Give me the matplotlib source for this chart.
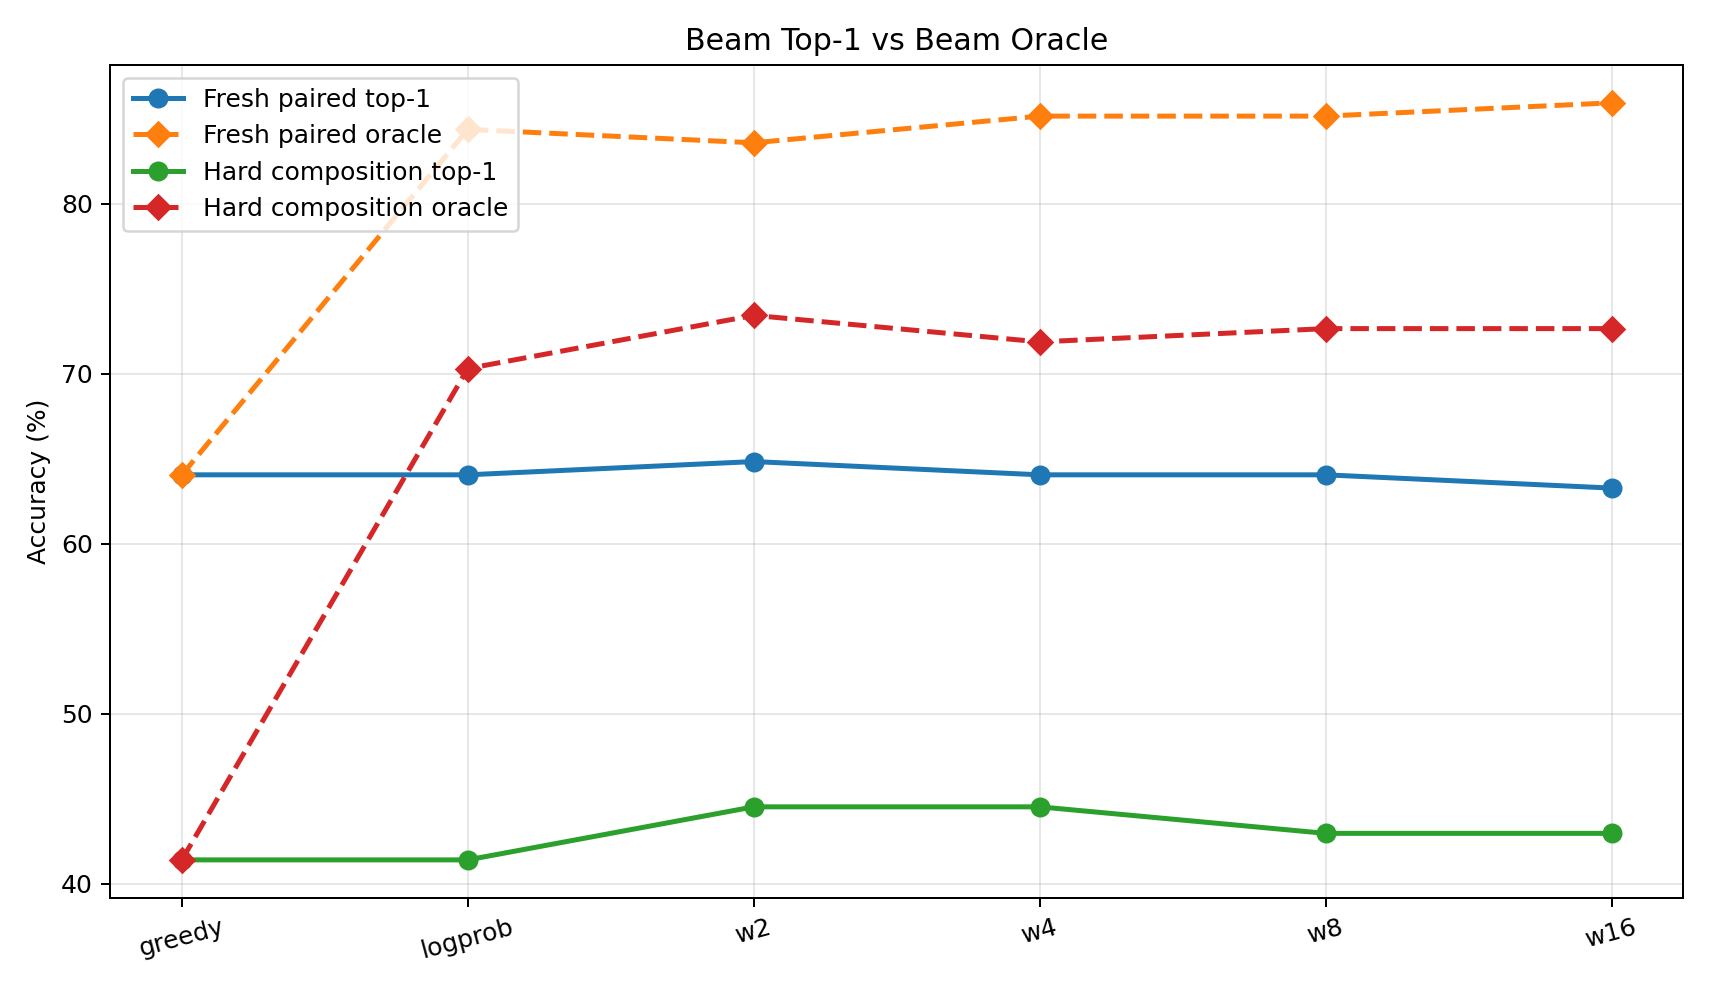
import numpy as np
import matplotlib
matplotlib.use("Agg")
import matplotlib.pyplot as plt

methods = ["greedy", "logprob", "w2", "w4", "w8", "w16"]

fresh_top1 = [64.06, 64.06, 64.84, 64.06, 64.06, 63.28]
fresh_oracle = [64.06, 84.38, 83.59, 85.16, 85.16, 85.94]
hard_top1 = [41.41, 41.41, 44.53, 44.53, 42.97, 42.97]
hard_oracle = [41.41, 70.31, 73.44, 71.88, 72.66, 72.66]

x = np.arange(len(methods))

fig, ax = plt.subplots(figsize=(9.5, 5.5), dpi=180)
ax.plot(x, fresh_top1, 'o-', lw=2, ms=7, label="Fresh paired top-1")
ax.plot(x, fresh_oracle, 'D--', lw=2, ms=7, label="Fresh paired oracle")
ax.plot(x, hard_top1, 'o-', lw=2, ms=7, label="Hard composition top-1")
ax.plot(x, hard_oracle, 'D--', lw=2, ms=7, label="Hard composition oracle")

ax.set_xticks(x)
ax.set_xticklabels(methods, rotation=15)
ax.set_ylabel("Accuracy (%)")
ax.set_title("Beam Top-1 vs Beam Oracle")
ax.grid(True, alpha=0.3)
ax.legend(loc="upper left")

fig.tight_layout()
fig.savefig("out.png", dpi=180)
